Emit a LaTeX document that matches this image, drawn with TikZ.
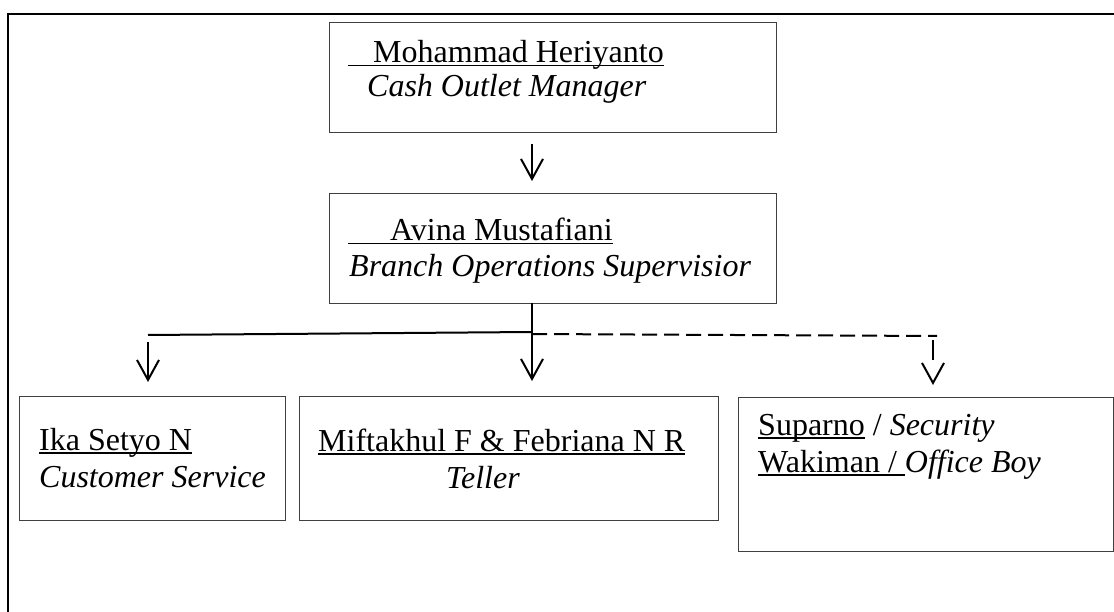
\documentclass[tikz,border=0pt]{standalone}
\usepackage{fontspec}
\setmainfont{Liberation Serif}
\usetikzlibrary{arrows.meta}
\newcommand\myul[1]{\setbox0\hbox{#1}\rlap{\rule[-4pt]{\wd0}{1.8pt}}\box0\relax}
\begin{document}
\begin{tikzpicture}[x=1pt,y=-1pt, font=\fontsize{32}{37}\selectfont,
  boxst/.style={draw=black!75, line width=1.3pt, inner sep=0pt, anchor=north west},
  lblst/.style={anchor=base west, inner sep=0pt},
  linkst/.style={line width=2pt},
  dashst/.style={line width=2pt, dash pattern=on 15pt off 7pt},
  arrst/.style={-{Straight Barb[length=20pt,width=22pt]}}]
\useasboundingbox (0,0) rectangle (1114,612);
\clip (0,0) rectangle (1114,612);
\draw[line width=2pt] (8,14) rectangle (1140,640);
% boxes
\node[boxst, minimum width=447pt, minimum height=110pt] (b1) at (329,22) {};
\node[boxst, minimum width=447pt, minimum height=110pt] (b2) at (329,193) {};
\node[boxst, minimum width=266pt, minimum height=124pt] (b3) at (19,396) {};
\node[boxst, minimum width=419pt, minimum height=124pt] (b4) at (299,396) {};
\node[boxst, minimum width=374.5pt, minimum height=154pt] (b5) at (738,397) {};
% texts
\node[lblst] (n1) at (348,62.5) {\myul{\hspace{25pt}Mohammad Heriyanto}};
\node[lblst] (r1) at (367,97) {\itshape Cash Outlet Manager};
\node[lblst] (n2) at (348,240.5) {\myul{\hspace{42pt}Avina Mustafiani}};
\node[lblst] (r2) at (349,277) {\itshape Branch Operations Supervisior};
\node[lblst] (n3) at (39,450) {\myul{Ika Setyo N}};
\node[lblst] (r3) at (39,487) {\itshape Customer Service};
\node[lblst] (n4) at (318,451) {\myul{Miftakhul F \& Febriana N R}};
\node[lblst] (r4) at (446,488) {\itshape Teller};
\node[lblst] (n5) at (758,435) {\myul{Suparno}\ / \textit{Security}};
\node[lblst] (n6) at (758,472) {\myul{Wakiman / }\textit{Office Boy}};
% connectors
\coordinate (a1) at (532,144);
\coordinate (a2) at (532,181);
\draw[linkst,arrst] (a1) -- (a2);
\coordinate (m0) at (532,303);
\coordinate (m1) at (532,381);
\draw[linkst,arrst] (m0) -- (m1);
\coordinate (h0) at (532,332);
\coordinate (hl) at (148,335);
\draw[linkst] (h0) -- (hl);
\coordinate (l0) at (148,342);
\coordinate (l1) at (148,382);
\draw[linkst,arrst] (l0) -- (l1);
\coordinate (d0) at (532,334);
\coordinate (d1) at (937,336);
\draw[dashst] (d0) -- (d1);
\coordinate (e0) at (933,340);
\coordinate (e1) at (933,385);
\draw[linkst,arrst,dash pattern=on 20pt off 40pt] (e0) -- (e1);
\end{tikzpicture}
\end{document}
